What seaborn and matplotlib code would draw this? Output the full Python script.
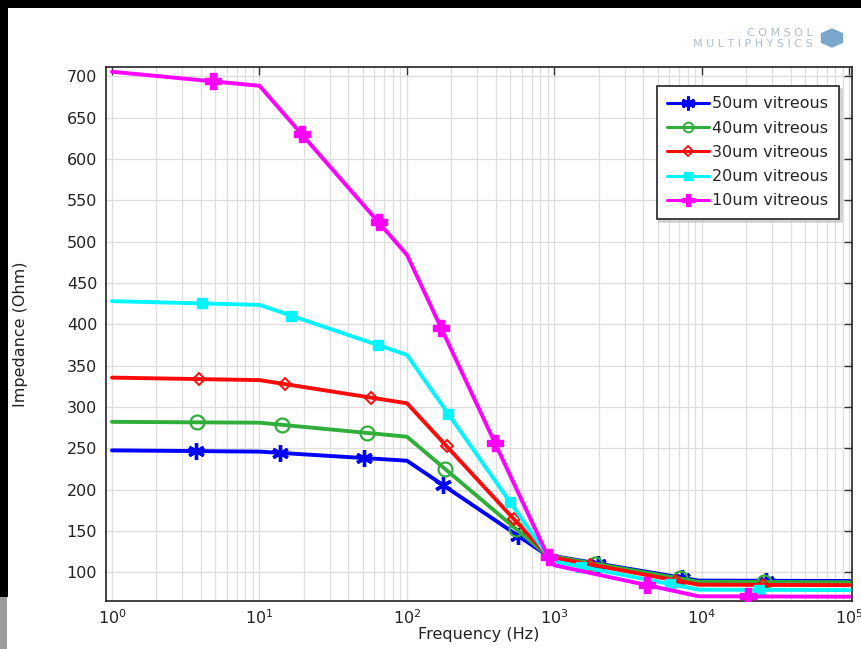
import numpy as np
import pandas as pd
import matplotlib
matplotlib.use("Agg")
import matplotlib.pyplot as plt
from matplotlib.lines import Line2D
from matplotlib.patches import Rectangle, RegularPolygon
import seaborn as sns

# Frequency sweep points (Hz)
freq = [1, 10, 100, 900, 1000, 9500, 100000]

# Impedance magnitude (Ohm) for each vitreous layer thickness
z_50um = [247.5, 246, 235, 120, 119.5, 90, 89.5]
z_40um = [282, 281, 264, 120, 119, 88.5, 88]
z_30um = [335.5, 332.5, 304.5, 120, 117.5, 85, 84.5]
z_20um = [428, 423.5, 363, 120, 113, 79, 78.5]
z_10um = [705.5, 688.5, 484, 120, 108.5, 71, 70.5]

series_names = ["50um vitreous", "40um vitreous", "30um vitreous",
                "20um vitreous", "10um vitreous"]
series_values = [z_50um, z_40um, z_30um, z_20um, z_10um]
colors = ["#0000ff", "#2fae3a", "#ff0a0a", "#00f5ff", "#ff00ff"]

# Marker styles per curve
marker_styles = [
    dict(marker=(6, 2, 0), markersize=12, markeredgewidth=2.4, markerfacecolor="none"),
    dict(marker="o", markersize=10, markeredgewidth=1.6, markerfacecolor="none"),
    dict(marker="D", markersize=6, markeredgewidth=1.4, markerfacecolor="none"),
    dict(marker="s", markersize=7, markeredgewidth=1.0),
    dict(marker="P", markersize=11, markeredgewidth=1.0),
]
legend_marker_styles = [
    dict(marker=(6, 2, 0), markersize=10, markeredgewidth=2.2, markerfacecolor="none"),
    dict(marker="o", markersize=7, markeredgewidth=1.4, markerfacecolor="none"),
    dict(marker="D", markersize=5, markeredgewidth=1.3, markerfacecolor="none"),
    dict(marker="s", markersize=6, markeredgewidth=1.0),
    dict(marker="P", markersize=9, markeredgewidth=1.0),
]

df = pd.DataFrame({
    "Frequency (Hz)": np.tile(freq, len(series_names)),
    "Impedance (Ohm)": np.concatenate(series_values),
    "series": np.repeat(series_names, len(freq)),
})

sns.set_style("white")
plt.rcParams["font.family"] = ["DejaVu Sans"]

fig = plt.figure(figsize=(8.61, 6.49), dpi=100)
fig.patch.set_facecolor("white")
ax = fig.add_axes([105.5 / 861, 1 - 601 / 649, (852 - 105.5) / 861, (601 - 66.7) / 649])
ax.set_xscale("log")
ax.set_xlim(0.904, 1.04e5)
ax.set_ylim(65.3, 711.6)

sns.lineplot(data=df, x="Frequency (Hz)", y="Impedance (Ohm)", hue="series",
             hue_order=series_names, palette=colors, linewidth=2.8,
             estimator=None, sort=False, legend=False, ax=ax)

# Layer each curve above the previous one, with its markers on top of it
for i, line in enumerate(ax.lines[:len(series_names)]):
    line.set_zorder(3 + 2 * i)
    line.set_solid_joinstyle("miter")


def markers_along(xs, ys, count=8, yscale=0.75):
    """Place markers at equal arc-length steps along the drawn polyline."""
    pts = ax.transData.transform(np.column_stack([xs, ys])).astype(float)
    pts[:, 1] *= yscale
    seg = np.hypot(np.diff(pts[:, 0]), np.diff(pts[:, 1]))
    cum = np.concatenate([[0.0], np.cumsum(seg)])
    targets = cum[-1] * np.arange(1, count + 1) / (count + 1)
    px = np.interp(targets, cum, pts[:, 0])
    py = np.interp(targets, cum, pts[:, 1]) / yscale
    data = ax.transData.inverted().transform(np.column_stack([px, py]))
    return data[:, 0], data[:, 1]


for i, (vals, col, ms) in enumerate(zip(series_values, colors, marker_styles)):
    mx, my = markers_along(freq, vals)
    ax.plot(mx, my, linestyle="none", color=col, markeredgecolor=col,
            zorder=4 + 2 * i, **ms)

# Grid and ticks
ax.grid(True, which="major", axis="both", color="#dedede", linewidth=0.9)
ax.grid(True, which="minor", axis="x", color="#dedede", linewidth=0.9)
ax.set_axisbelow(True)
ax.set_yticks(np.arange(100, 701, 50))
ax.tick_params(axis="both", which="major", direction="in", length=6, width=1,
               colors="#333333", labelcolor="#222222", labelsize=11.5,
               top=True, right=True)
ax.tick_params(axis="x", which="minor", length=0, top=False, bottom=False)
ax.tick_params(axis="y", which="major", pad=6)
ax.tick_params(axis="x", which="major", pad=5)
for side in ["left", "bottom", "top", "right"]:
    ax.spines[side].set_color("#222222")
    ax.spines[side].set_linewidth(1.2)

ax.set_xlabel("Frequency (Hz)", fontsize=11.5, color="#222222", labelpad=0)
ax.set_ylabel("Impedance (Ohm)", fontsize=11.5, color="#222222", labelpad=28)

# Legend
handles = [Line2D([], [], color=col, linewidth=2.2, markeredgecolor=col, **ms)
           for col, ms in zip(colors, legend_marker_styles)]
leg = fig.legend(handles, series_names, loc="upper right",
                 bbox_to_anchor=(839 / 861, 1 - 86 / 649),
                 fontsize=11.5, frameon=True, fancybox=False,
                 handlelength=2.6, handletextpad=0.25, borderpad=0.65,
                 borderaxespad=0.0, labelspacing=0.58,
                 shadow={"ox": 2, "oy": -2, "color": "0.75", "alpha": 0.6})
leg.get_frame().set_edgecolor("#222222")
leg.get_frame().set_linewidth(1.2)
leg.set_zorder(20)

# Dark border along the top and left edges
fig.patches.append(Rectangle((0, 1 - 8 / 649), 1, 8 / 649, transform=fig.transFigure,
                             facecolor="black", edgecolor="none", zorder=0))
fig.patches.append(Rectangle((0, 52 / 649), 8 / 861, 1, transform=fig.transFigure,
                             facecolor="black", edgecolor="none", zorder=0))
fig.patches.append(Rectangle((0, 0), 7 / 861, 52 / 649, transform=fig.transFigure,
                             facecolor="#9a9a9a", edgecolor="none", zorder=0))

# Software logo in the top right corner
fig.text(813 / 861, 1 - 33 / 649, "C O M S O L", fontsize=8, color="#aebccb",
         ha="right", va="center")
fig.text(813 / 861, 1 - 44 / 649, "M U L T I P H Y S I C S", fontsize=8,
         color="#aebccb", ha="right", va="center")
fig.patches.append(RegularPolygon((832 / 861, 1 - 38 / 649), 6, radius=0.015,
                                  transform=fig.transFigure, facecolor="#7aa7cc",
                                  edgecolor="none", zorder=1))

fig.savefig("out.png", dpi=100)
